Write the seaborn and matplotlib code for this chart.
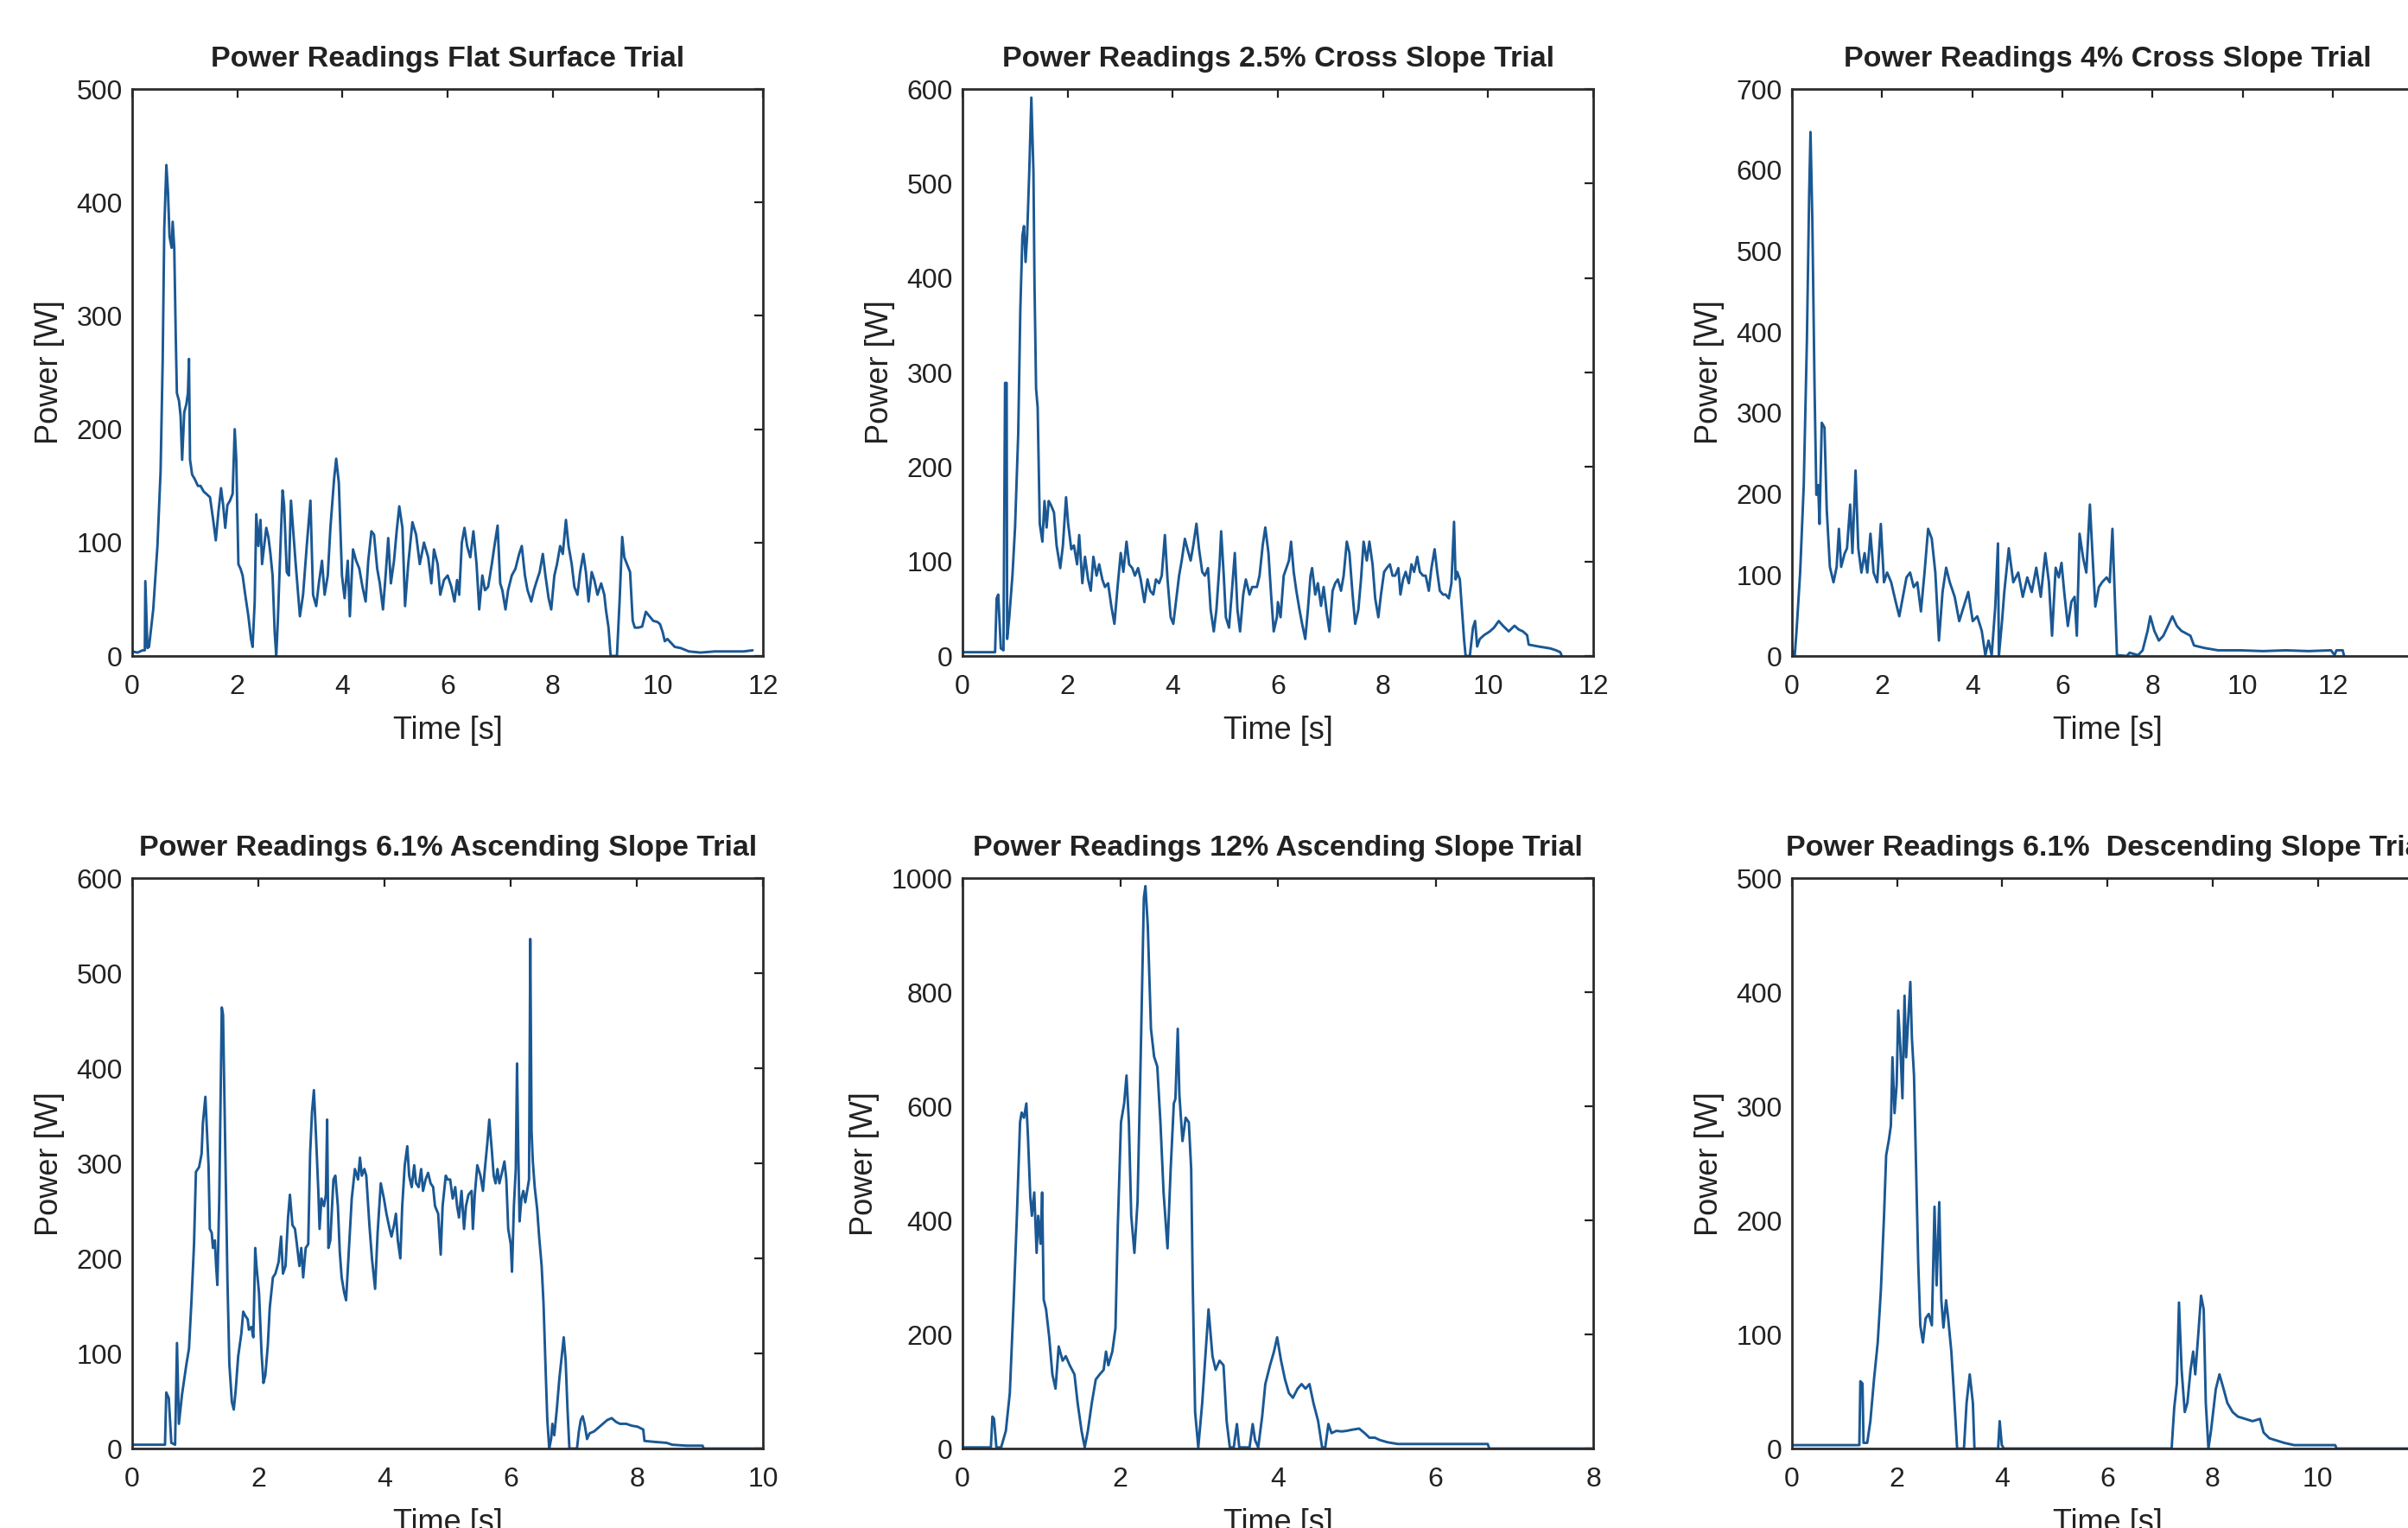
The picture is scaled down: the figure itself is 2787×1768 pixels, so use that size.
import matplotlib
matplotlib.use("Agg")
import matplotlib.pyplot as plt
import seaborn as sns

sns.set_style("white")
plt.rcParams['font.family'] = ['Liberation Sans', 'DejaVu Sans']

# flat surface trial
flat_t = [0, 0.10, 0.20, 0.24, 0.25, 0.29, 0.32, 0.40, 0.48, 0.54, 0.58, 0.61, 0.65, 0.68, 0.71, 0.75, 0.77, 0.80,
          0.83, 0.85, 0.89, 0.92, 0.95, 0.99, 1.03, 1.06, 1.08, 1.10, 1.14, 1.19, 1.25, 1.30, 1.36, 1.41, 1.48, 1.54,
          1.59, 1.64, 1.69, 1.73, 1.77, 1.81, 1.86, 1.91, 1.95, 1.98, 2.02, 2.06, 2.10, 2.15, 2.21, 2.26, 2.29, 2.33,
          2.36, 2.40, 2.44, 2.47, 2.51, 2.55, 2.59, 2.63, 2.67, 2.71, 2.74, 2.77, 2.82, 2.86, 2.89, 2.94, 2.98, 3.02,
          3.11, 3.19, 3.25, 3.32, 3.39, 3.44, 3.50, 3.55, 3.61, 3.66, 3.72, 3.77, 3.84, 3.88, 3.93, 3.99, 4.04, 4.10,
          4.14, 4.20, 4.26, 4.32, 4.38, 4.44, 4.49, 4.55, 4.60, 4.66, 4.71, 4.77, 4.82, 4.87, 4.92, 4.98, 5.03, 5.08,
          5.14, 5.19, 5.25, 5.33, 5.40, 5.47, 5.55, 5.63, 5.69, 5.74, 5.81, 5.86, 5.93,
          6.00, 6.07, 6.13, 6.18, 6.22, 6.27, 6.32, 6.37, 6.43, 6.49, 6.55, 6.60, 6.66, 6.71, 6.77, 6.84, 6.89, 6.95,
          7.00, 7.04, 7.10, 7.15, 7.22, 7.29, 7.36, 7.41, 7.47, 7.52, 7.59, 7.64, 7.70, 7.75, 7.81, 7.86, 7.92, 7.97,
          8.03, 8.08, 8.14, 8.19, 8.25, 8.30, 8.36, 8.41, 8.47, 8.52, 8.58, 8.63, 8.68, 8.74, 8.79, 8.85, 8.92, 8.98,
          9.01, 9.06, 9.10, 9.17, 9.22, 9.27, 9.32, 9.36, 9.41, 9.47, 9.52, 9.56, 9.63, 9.70, 9.77, 9.84, 9.91, 9.99,
          10.04, 10.09, 10.13, 10.18, 10.24, 10.32, 10.43, 10.59, 10.81, 11.08, 11.36, 11.63, 11.80]
flat_p = [4, 3, 5, 5, 66, 7, 8, 41, 97, 163, 261, 377, 433, 410, 370, 360, 383, 360,
          278, 232, 225, 212, 173, 215, 222, 232, 262, 173, 160, 156, 150, 150, 145, 143, 140, 120,
          102, 127, 148, 133, 113, 133, 137, 143, 200, 173, 81, 77, 71, 54, 35, 15, 8, 48,
          125, 97, 120, 81, 97, 113, 105, 90, 71, 21, 0, 31, 97, 146, 133, 74, 71, 137,
          81, 35, 54, 97, 137, 54, 44, 64, 84, 54, 71, 113, 156, 174, 153, 71, 51, 84,
          35, 94, 84, 77, 61, 48, 84, 110, 107, 77, 64, 41, 71, 104, 64, 84, 110, 132,
          113, 44, 81, 118, 107, 81, 100, 87, 64, 94, 81, 54, 67,
          71, 61, 48, 67, 54, 100, 113, 97, 87, 110, 81, 41, 71, 58, 61, 81, 97, 115,
          64, 58, 41, 58, 71, 77, 90, 97, 71, 58, 48, 58, 67, 74, 90, 71, 51, 41,
          71, 81, 97, 90, 120, 97, 81, 61, 54, 74, 90, 74, 48, 74, 67, 54, 64, 54,
          41, 25, 0, 0, 0, 48, 105, 87, 81, 74, 31, 25, 25, 26, 39, 35, 31, 30,
          28, 21, 13, 15, 12, 8, 7, 4, 3, 4, 4, 4, 5]

# 2.5% cross slope trial
cross25_t = [0, 0.62, 0.65, 0.68, 0.73, 0.78, 0.81, 0.84, 0.85, 0.89, 0.95, 1.00, 1.06, 1.10, 1.14, 1.17, 1.20, 1.23,
             1.27, 1.31, 1.35, 1.37, 1.40, 1.43, 1.47, 1.52, 1.56, 1.60, 1.64, 1.68, 1.74, 1.79, 1.86, 1.91, 1.97,
             2.01, 2.07, 2.12, 2.18, 2.22, 2.28, 2.33, 2.39, 2.44, 2.49, 2.55, 2.60, 2.66, 2.71, 2.77, 2.83, 2.89,
             2.95, 3.01, 3.06, 3.12, 3.17, 3.23, 3.28, 3.34, 3.39, 3.46, 3.52, 3.57, 3.63, 3.68, 3.74, 3.79, 3.85,
             3.90, 3.96, 4.01, 4.06, 4.12, 4.17, 4.23, 4.28, 4.34, 4.39, 4.45, 4.50, 4.56, 4.61, 4.67, 4.72, 4.78,
             4.83, 4.89, 4.92, 4.97, 5.01, 5.07, 5.12, 5.18, 5.23, 5.28, 5.34, 5.39, 5.46, 5.51, 5.60, 5.65, 5.71,
             5.76, 5.82, 5.87, 5.92, 5.98, 6.00, 6.05, 6.11, 6.16, 6.21, 6.25, 6.30, 6.35, 6.41, 6.46, 6.52, 6.57,
             6.62, 6.65, 6.71, 6.76, 6.82, 6.87, 6.93, 6.98, 7.04, 7.09, 7.14, 7.20, 7.25, 7.31, 7.36, 7.42, 7.47,
             7.53, 7.58, 7.63, 7.69, 7.74, 7.80, 7.85, 7.91, 7.96, 8.02, 8.07, 8.13, 8.18, 8.23, 8.29, 8.33, 8.38,
             8.43, 8.49, 8.54, 8.59, 8.65, 8.70, 8.76, 8.81, 8.87, 8.92, 8.98, 9.03, 9.08, 9.14, 9.19, 9.25, 9.30,
             9.35, 9.38, 9.41, 9.46, 9.50, 9.54, 9.57, 9.65, 9.71, 9.75, 9.79, 9.84, 9.92, 10.03, 10.11, 10.20,
             10.28, 10.39, 10.50, 10.58, 10.66, 10.74, 10.77, 10.96, 11.18, 11.29, 11.37, 11.40]
cross25_p = [4, 4, 61, 65, 8, 6, 289, 289, 18, 41, 85, 136, 235, 366, 445, 455, 417, 445,
             512, 591, 512, 393, 283, 263, 140, 121, 164, 136, 164, 160, 152, 117, 93, 117, 168,
             140, 113, 117, 97, 128, 77, 105, 81, 69, 105, 85, 97, 81, 73, 77, 53, 34,
             73, 109, 89, 121, 97, 93, 85, 93, 81, 57, 81, 69, 65, 81, 77, 85, 128,
             81, 41, 34, 57, 85, 101, 124, 113, 101, 117, 140, 113, 89, 85, 93, 49, 26,
             49, 97, 132, 85, 41, 30, 65, 109, 49, 26, 65, 81, 65, 73, 73, 85, 117,
             136, 109, 65, 26, 41, 57, 41, 85, 93, 101, 121, 89, 69, 49, 34, 18, 49,
             85, 93, 65, 77, 53, 73, 45, 26, 69, 77, 81, 69, 85, 121, 109, 65, 34,
             49, 81, 121, 101, 121, 97, 61, 41, 65, 89, 93, 97, 85, 85, 93, 65, 81,
             89, 77, 97, 89, 105, 89, 85, 85, 69, 93, 113, 89, 69, 65, 65, 61, 77,
             142, 81, 89, 81, 49, 18, 0, 0, 30, 37, 10, 18, 22, 26, 30, 37,
             32, 26, 32, 28, 26, 22, 12, 10, 8, 6, 4, 0]

# 4% cross slope trial
cross4_t = [0, 0.06, 0.10, 0.18, 0.26, 0.33, 0.38, 0.41, 0.45, 0.50, 0.54, 0.58, 0.61, 0.66, 0.72, 0.77, 0.84, 0.92,
            0.99, 1.04, 1.09, 1.17, 1.22, 1.29, 1.34, 1.41, 1.47, 1.54, 1.61, 1.67, 1.74, 1.81, 1.89, 1.97, 2.04,
            2.11, 2.20, 2.30, 2.38, 2.46, 2.54, 2.62, 2.70, 2.78, 2.86, 2.94, 3.02, 3.10, 3.18, 3.26, 3.34, 3.42,
            3.50, 3.61, 3.71, 3.81, 3.91, 4.01, 4.11, 4.21, 4.29, 4.36, 4.43, 4.51, 4.57, 4.59, 4.66, 4.71, 4.81,
            4.91, 5.02, 5.12, 5.22, 5.32, 5.42, 5.52, 5.62, 5.70, 5.77, 5.85, 5.92, 5.98, 6.04, 6.12, 6.20, 6.27,
            6.32, 6.38, 6.46, 6.53, 6.61, 6.66, 6.73, 6.81, 6.88, 6.98, 7.05, 7.11, 7.17, 7.21, 7.43, 7.49, 7.68,
            7.78, 7.89, 7.95, 8.04, 8.14, 8.24, 8.34, 8.44, 8.54, 8.64, 8.74, 8.84, 8.92, 9.14, 9.45, 9.95, 10.45,
            10.96, 11.46, 11.96, 12.04, 12.08, 12.22, 12.25]
cross4_p = [7, 1, 31, 103, 211, 390, 570, 647, 540, 330, 199, 211, 163, 288, 282, 181, 110, 91,
            110, 157, 110, 127, 133, 187, 127, 229, 133, 103, 127, 103, 151, 103, 91, 163, 91,
            103, 91, 67, 49, 73, 97, 103, 85, 91, 55, 103, 157, 145, 103, 19, 79, 109,
            91, 73, 43, 61, 79, 43, 49, 31, 1, 19, 1, 61, 139, 0, 43, 79, 133,
            91, 103, 73, 97, 79, 109, 73, 127, 91, 25, 109, 97, 115, 79, 37, 67, 73,
            25, 151, 121, 103, 187, 133, 61, 85, 91, 97, 91, 157, 61, 1, 0, 4, 1,
            7, 31, 49, 31, 19, 25, 37, 49, 37, 31, 28, 25, 13, 10, 7, 7, 6,
            7, 6, 7, 1, 7, 7, 0]

# 6.1% ascending slope trial
asc61_t = [0, 0.52, 0.54, 0.58, 0.62, 0.68, 0.71, 0.74, 0.79, 0.86, 0.90, 0.94, 0.98, 1.01, 1.06, 1.10, 1.12, 1.16,
           1.18, 1.21, 1.23, 1.26, 1.28, 1.31, 1.33, 1.35, 1.38, 1.42, 1.44, 1.47, 1.51, 1.54, 1.58, 1.61, 1.64,
           1.68, 1.73, 1.76, 1.79, 1.83, 1.85, 1.89, 1.92, 1.95, 1.97, 2.01, 2.05, 2.08, 2.11, 2.15, 2.18, 2.23,
           2.27, 2.32, 2.36, 2.39, 2.43, 2.47, 2.50, 2.54, 2.58, 2.61, 2.65, 2.68, 2.71, 2.75, 2.79, 2.82, 2.85,
           2.88, 2.91, 2.95, 2.97, 3.00, 3.04, 3.07, 3.09, 3.11, 3.14, 3.19, 3.22, 3.26, 3.29, 3.32, 3.36, 3.39,
           3.44, 3.48, 3.53, 3.58, 3.61, 3.64, 3.68, 3.71, 3.76, 3.80, 3.85, 3.89, 3.94, 3.99, 4.03, 4.08, 4.11,
           4.15, 4.18, 4.21, 4.25, 4.28, 4.32, 4.36, 4.39, 4.43, 4.47, 4.50, 4.54, 4.58, 4.61, 4.65, 4.69, 4.73,
           4.77, 4.80, 4.85, 4.89, 4.92, 4.97, 5.00, 5.04, 5.08, 5.12, 5.15, 5.18, 5.22, 5.26, 5.29, 5.33, 5.38,
           5.40, 5.43, 5.47, 5.52, 5.56, 5.59, 5.63, 5.66, 5.70, 5.73, 5.76, 5.79, 5.82, 5.86, 5.90, 5.93, 5.96,
           6.00, 6.02, 6.05, 6.08, 6.10, 6.12, 6.14, 6.17, 6.20, 6.23, 6.26, 6.29, 6.31, 6.33, 6.35, 6.38, 6.42,
           6.45, 6.49, 6.52, 6.55, 6.58, 6.61, 6.64, 6.66, 6.69, 6.73, 6.77, 6.82, 6.84, 6.87, 6.90, 6.93, 7.05,
           7.08, 7.11, 7.14, 7.17, 7.21, 7.25, 7.32, 7.39, 7.46, 7.53, 7.60, 7.67, 7.73, 7.83, 7.92, 8.01, 8.10,
           8.12, 8.28, 8.47, 8.56, 8.79, 9.04, 9.06, 10.0]
asc61_p = [4, 4, 59, 53, 6, 4, 111, 26, 57, 89, 105, 156, 215, 291, 296, 310, 342, 370,
           342, 298, 231, 227, 211, 219, 192, 172, 263, 464, 456, 334, 176, 89, 49, 41, 61,
           97, 121, 144, 140, 136, 125, 128, 117, 211, 192, 164, 101, 69, 77, 109, 148, 180,
           184, 196, 223, 184, 192, 243, 267, 235, 231, 215, 192, 211, 180, 211, 215, 310, 354,
           377, 334, 271, 231, 263, 255, 267, 346, 211, 219, 283, 287, 255, 207, 180, 164, 156,
           215, 263, 294, 283, 306, 287, 294, 287, 235, 200, 168, 227, 279, 263, 247, 231, 223,
           235, 247, 219, 200, 255, 298, 318, 287, 275, 298, 279, 275, 294, 271, 283, 290, 279,
           275, 255, 247, 204, 255, 287, 283, 283, 263, 275, 255, 243, 271, 231, 255, 267, 271,
           231, 267, 298, 287, 271, 294, 322, 346, 314, 287, 279, 294, 279, 290, 302, 283, 231,
           215, 186, 255, 294, 405, 310, 239, 263, 271, 259, 271, 283, 536, 334, 302, 275, 251,
           223, 192, 152, 89, 30, 0, 10, 26, 14, 41, 73, 105, 117, 93, 41, 0, 0,
           18, 30, 34, 26, 10, 16, 18, 22, 26, 30, 32, 28, 26, 26, 24, 23, 20,
           8, 7, 6, 4, 3, 3, 0, 0]

# 12% ascending slope trial
asc12_t = [0, 0.36, 0.38, 0.40, 0.43, 0.49, 0.55, 0.60, 0.65, 0.69, 0.73, 0.75, 0.78, 0.81, 0.83, 0.86, 0.88, 0.91,
           0.94, 0.96, 0.99, 1.01, 1.03, 1.06, 1.10, 1.14, 1.18, 1.22, 1.27, 1.31, 1.36, 1.42, 1.46, 1.51, 1.55,
           1.59, 1.64, 1.69, 1.74, 1.79, 1.82, 1.85, 1.90, 1.94, 1.97, 2.01, 2.05, 2.08, 2.11, 2.14, 2.18, 2.22,
           2.26, 2.30, 2.32, 2.35, 2.39, 2.43, 2.47, 2.51, 2.55, 2.60, 2.64, 2.68, 2.70, 2.73, 2.75, 2.79, 2.83,
           2.87, 2.90, 2.92, 2.95, 2.99, 3.04, 3.08, 3.12, 3.17, 3.21, 3.26, 3.31, 3.35, 3.39, 3.44, 3.48, 3.51,
           3.64, 3.68, 3.71, 3.75, 3.80, 3.84, 3.90, 3.95, 3.99, 4.04, 4.09, 4.14, 4.19, 4.25, 4.30, 4.35, 4.40,
           4.45, 4.51, 4.56, 4.60, 4.64, 4.68, 4.74, 4.81, 4.87, 4.94, 5.03, 5.10, 5.16, 5.23, 5.29, 5.39, 5.52,
           5.78, 6.10, 6.43, 6.66, 6.68, 8.0]
asc12_p = [2, 2, 56, 52, 2, 2, 31, 97, 261, 408, 572, 589, 580, 605, 548, 441, 408, 449,
           343, 408, 359, 449, 261, 244, 195, 130, 105, 179, 154, 162, 146, 130, 80, 31, 2,
           31, 80, 121, 130, 138, 170, 146, 170, 211, 392, 572, 605, 654, 572, 408, 343, 433,
           687, 966, 986, 916, 736, 687, 670, 572, 449, 351, 490, 605, 613, 736, 621, 539, 580,
           572, 490, 285, 64, 2, 80, 162, 244, 162, 138, 154, 146, 48, 2, 2, 43, 2,
           2, 43, 15, 2, 56, 113, 146, 170, 195, 154, 121, 97, 89, 105, 113, 105, 113,
           80, 48, 2, 2, 43, 27, 31, 30, 31, 33, 35, 27, 19, 19, 15, 11, 8,
           8, 8, 8, 8, 0, 0]

# 6.1% descending slope trial
desc61_t = [0, 1.28, 1.30, 1.34, 1.36, 1.43, 1.49, 1.56, 1.63, 1.69, 1.75, 1.79, 1.84, 1.88, 1.91, 1.95, 1.99, 2.02,
            2.06, 2.10, 2.14, 2.17, 2.21, 2.25, 2.28, 2.32, 2.36, 2.40, 2.44, 2.49, 2.54, 2.60, 2.66, 2.71, 2.75,
            2.80, 2.84, 2.88, 2.93, 2.97, 3.03, 3.08, 3.14, 3.27, 3.32, 3.38, 3.44, 3.47, 3.92, 3.95, 3.99, 4.03,
            7.22, 7.27, 7.32, 7.36, 7.41, 7.47, 7.52, 7.58, 7.63, 7.67, 7.73, 7.78, 7.83, 7.87, 7.92, 7.97, 8.01,
            8.06, 8.13, 8.21, 8.28, 8.38, 8.48, 8.62, 8.76, 8.90, 8.97, 9.08, 9.22, 9.36, 9.55, 9.92, 10.33, 10.36,
            12.0]
desc61_p = [3, 3, 59, 57, 5, 5, 24, 61, 93, 139, 204, 257, 270, 283, 343, 294, 319, 384,
            352, 307, 397, 343, 376, 409, 360, 327, 245, 163, 108, 93, 114, 118, 108, 212, 143,
            216, 130, 106, 130, 114, 85, 48, 0, 0, 40, 65, 40, 0, 0, 24, 3, 0,
            0, 36, 57, 128, 69, 32, 40, 69, 85, 65, 102, 134, 122, 40, 0, 16, 32,
            52, 65, 52, 40, 32, 28, 26, 24, 26, 14, 9, 7, 5, 3, 3, 3, 0,
            0]

titles = ["Power Readings Flat Surface Trial", "Power Readings 2.5% Cross Slope Trial",
          "Power Readings 4% Cross Slope Trial", "Power Readings 6.1% Ascending Slope Trial",
          "Power Readings 12% Ascending Slope Trial", "Power Readings 6.1%  Descending Slope Trial"]
series = [(flat_t, flat_p), (cross25_t, cross25_p), (cross4_t, cross4_p),
          (asc61_t, asc61_p), (asc12_t, asc12_p), (desc61_t, desc61_p)]
x_max = [12, 12, 14, 10, 8, 12]
y_max = [500, 600, 700, 600, 1000, 500]
y_step = [100, 100, 100, 100, 200, 100]

line_col = '#1a5894'
txt_col = '#222222'

fig = plt.figure(figsize=(27.87, 17.68), dpi=100)
lefts = [0.0549, 0.3997, 0.7442]
bottoms = [0.5707, 0.0520]
heights = [0.3710, 0.3733]
width = 0.2620

for i in range(6):
    r, c = divmod(i, 3)
    ax = fig.add_axes([lefts[c], bottoms[r], width, heights[r]])
    sns.lineplot(x=series[i][0], y=series[i][1], ax=ax, color=line_col, linewidth=2.1,
                 estimator=None, sort=False)
    ax.set_xlim(0, x_max[i])
    ax.set_ylim(0, y_max[i])
    xt = list(range(0, x_max[i] + 1, 2))
    ax.set_xticks(xt)
    # the last label of the right column falls off the page, as in the source image
    ax.set_xticklabels([str(v) if (c < 2 or v < x_max[i]) else '' for v in xt])
    ax.set_yticks(range(0, y_max[i] + 1, y_step[i]))
    ax.tick_params(direction='in', top=True, right=True, length=7, width=1.6,
                   labelsize=23, colors=txt_col)
    ax.tick_params(axis='x', pad=15)
    ax.tick_params(axis='y', pad=8)
    for s in ax.spines.values():
        s.set_color('#2b2b2b')
        s.set_linewidth(2)
    ax.set_title(titles[i], fontsize=24.5, fontweight='bold', color=txt_col, pad=19)
    ax.set_xlabel("Time [s]", fontsize=26, color=txt_col, labelpad=13)
    ax.set_ylabel("Power [W]", fontsize=26, color=txt_col, labelpad=10)

fig.savefig("out.png", dpi=100, facecolor='white')
